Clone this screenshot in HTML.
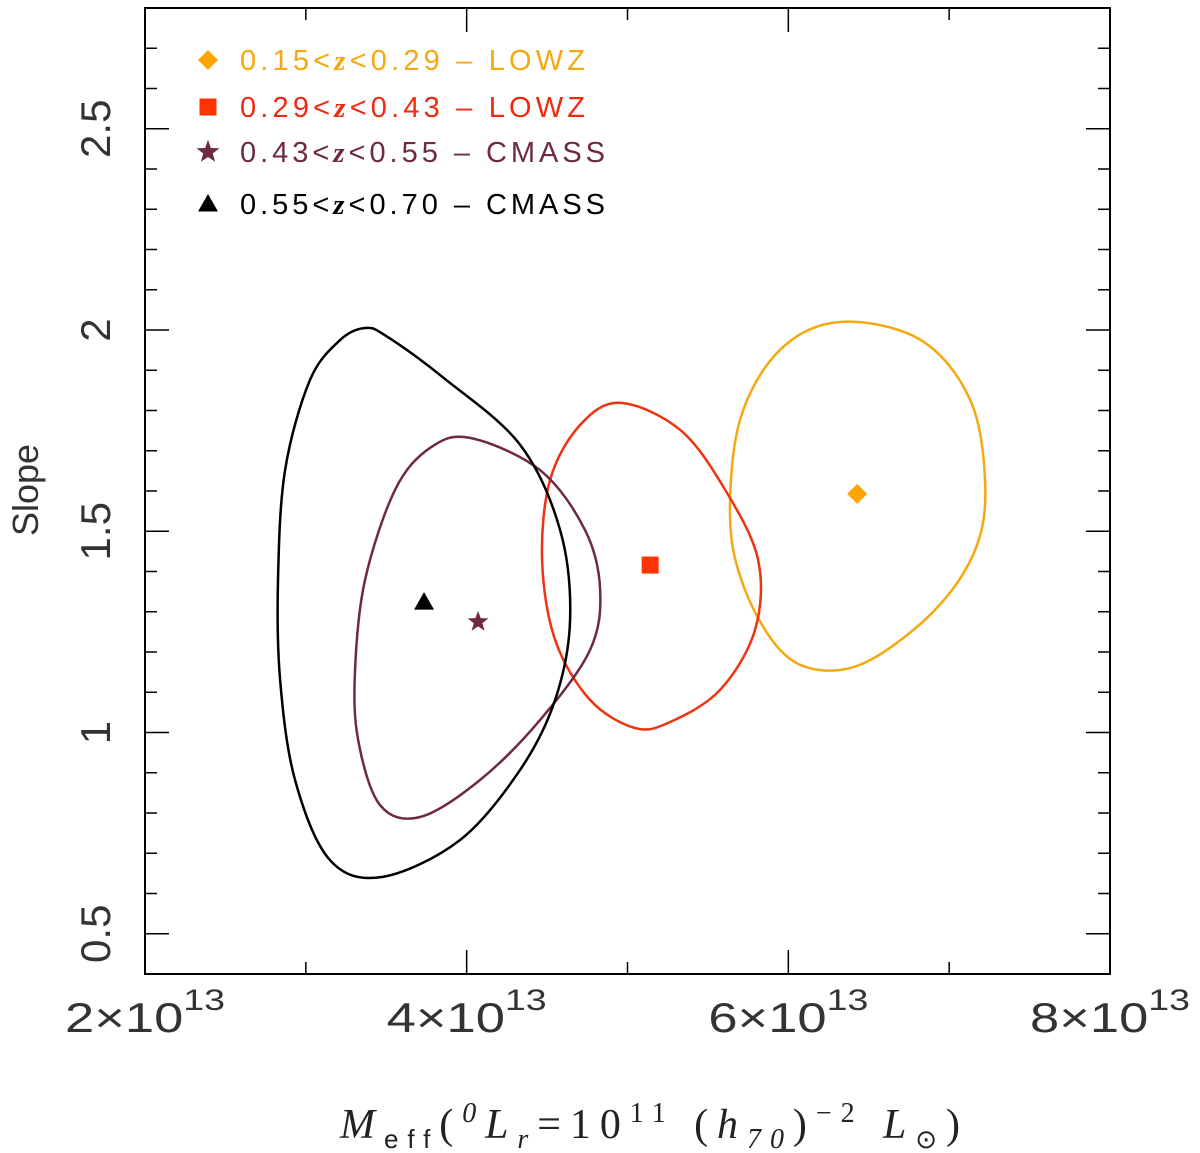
<!DOCTYPE html>
<html><head><meta charset="utf-8"><style>
body{margin:0;background:#fff}
svg{display:block;font-family:"Liberation Sans",sans-serif}
</style></head><body>
<svg id="chart" width="1200" height="1153" viewBox="0 0 1200 1153">
<g id="contours"></g>
<g id="markers"></g>
<g id="axes"></g>
<g id="legend"></g>
<text x="38" y="490" font-size="36" fill="#333" text-anchor="middle" transform="rotate(-90 38 490)">Slope</text>
<text x="650" y="1138" font-size="42" fill="#222" text-anchor="middle" font-family="Liberation Serif,serif" textLength="620"><tspan font-style="italic">M</tspan><tspan font-size="26" dy="10" font-family="Liberation Sans">eff</tspan><tspan dy="-10">(</tspan><tspan font-style="italic" font-size="28" dy="-16">0</tspan><tspan font-style="italic" dy="16">L</tspan><tspan font-style="italic" font-size="28" dy="10">r</tspan><tspan dy="-10">=10</tspan><tspan font-size="28" dy="-16">11</tspan><tspan dy="16">  (</tspan><tspan font-style="italic">h</tspan><tspan font-style="italic" font-size="28" dy="10">70</tspan><tspan dy="-10">)</tspan><tspan font-size="28" dy="-16">−2</tspan><tspan font-style="italic" dy="16">  L</tspan><tspan font-size="26" dy="10">⊙</tspan><tspan dy="-10">)</tspan></text>
</svg>
<script>
const xTicksMajor=[2,4,6,8];
const xTicksMinor=[3,5,7];
const yTicksMajor=[0.5,1,1.5,2,2.5];
const yTickLabels=["0.5","1","1.5","2","2.5"];
const yTicksMinor=[0.4,0.6,0.7,0.8,0.9,1.1,1.2,1.3,1.4,1.6,1.7,1.8,1.9,2.1,2.2,2.3,2.4,2.6,2.7];
const seriesNames=["0.15<z<0.29 — LOWZ","0.29<z<0.43 — LOWZ","0.43<z<0.55 — CMASS","0.55<z<0.70 — CMASS"];
const lowz1X=[6.322,6.820,7.131,7.224,7.162,6.913,6.509,6.198,5.949,5.731,5.638,5.700,5.949];
const lowz1Y=[2.020,1.976,1.826,1.615,1.454,1.305,1.180,1.155,1.205,1.354,1.528,1.777,1.951];
const lowz2X=[4.954,5.327,5.607,5.812,5.793,5.576,5.265,5.047,4.767,4.550,4.469,4.519,4.705];
const lowz2Y=[1.819,1.752,1.603,1.429,1.255,1.106,1.026,1.011,1.081,1.230,1.429,1.628,1.764];
const cmass1X=[4.021,4.456,4.736,4.830,4.767,4.456,4.083,3.710,3.461,3.325,3.306,3.368,3.555,3.772];
const cmass1Y=[1.732,1.652,1.503,1.354,1.205,1.031,0.882,0.790,0.820,0.982,1.155,1.379,1.603,1.707];
const cmass2X=[3.368,3.500,3.860,4.332,4.581,4.643,4.550,4.332,3.959,3.474,3.150,2.933,2.840,2.827,2.871,3.026,3.213];
const cmass2Y=[2.005,1.985,1.880,1.715,1.503,1.280,1.081,0.907,0.733,0.641,0.683,0.882,1.131,1.379,1.652,1.876,1.975];
const bestX=[6.428,5.141,4.071,3.735];
const bestY=[1.593,1.416,1.275,1.324];

const L=145,R=1110,T=8,B=974,X0=2,X1=8,Y0=0.4,Y1=2.8;
const sx=v=>L+(v-X0)/(X1-X0)*(R-L);
const sy=v=>B-(v-Y0)/(Y1-Y0)*(B-T);
const NS='http://www.w3.org/2000/svg';
function mk(tag,attrs,parent){const e=document.createElementNS(NS,tag);for(const k in attrs)e.setAttribute(k,attrs[k]);parent.appendChild(e);return e;}
const colors=['#f5a810','#ee3311','#6e2a42','#000'];
const mcolors=['#ffa500','#ff3300','#6e2a42','#000'];
const cx=[lowz1X,lowz2X,cmass1X,cmass2X],cy=[lowz1Y,lowz2Y,cmass1Y,cmass2Y];
const cg=document.getElementById('contours');
function smooth(px,py){const n=px.length;let d=`M${px[0]},${py[0]}`;for(let i=0;i<n;i++){const p0=(i-1+n)%n,p1=i,p2=(i+1)%n,p3=(i+2)%n;
const c1x=px[p1]+(px[p2]-px[p0])/6,c1y=py[p1]+(py[p2]-py[p0])/6,c2x=px[p2]-(px[p3]-px[p1])/6,c2y=py[p2]-(py[p3]-py[p1])/6;
d+=`C${c1x},${c1y} ${c2x},${c2y} ${px[p2]},${py[p2]}`;}return d+'Z';}
const cnames=['contour-lowz-low','contour-lowz-high','contour-cmass-low','contour-cmass-high'];
for(let s=0;s<4;s++){const p=mk('path',{d:smooth(cx[s].map(sx),cy[s].map(sy)),fill:'none',stroke:colors[s],'stroke-width':2.5},cg);

}
function marker(s,x,y,r,parent){let e;
if(s==0)e=mk('polygon',{points:`${x},${y-r} ${x+r},${y} ${x},${y+r} ${x-r},${y}`,fill:mcolors[0]},parent);
else if(s==1)e=mk('rect',{x:x-r*0.85,y:y-r*0.85,width:r*1.7,height:r*1.7,fill:mcolors[1]},parent);
else if(s==2){let pts=[];for(let i=0;i<10;i++){const a=-Math.PI/2+i*Math.PI/5,rr=i%2?r*0.45:r*1.1;pts.push((x+rr*Math.cos(a))+','+(y+rr*Math.sin(a)));}e=mk('polygon',{points:pts.join(' '),fill:mcolors[2]},parent);}
else e=mk('polygon',{points:`${x},${y-r} ${x+r},${y+r*0.75} ${x-r},${y+r*0.75}`,fill:mcolors[3]},parent);
return e;}
const mg=document.getElementById('markers');
const mnames=['marker-lowz-low','marker-lowz-high','marker-cmass-low','marker-cmass-high'];
for(let s=0;s<4;s++){const e=marker(s,sx(bestX[s]),sy(bestY[s]),10,mg);

}
const ag=document.getElementById('axes');
const fr=mk('rect',{x:L,y:T,width:R-L,height:B-T,fill:'none',stroke:'#000','stroke-width':2},ag);


xTicksMajor.forEach(v=>{const x=sx(v);mk('line',{x1:x,x2:x,y1:B,y2:B-24,stroke:'#000','stroke-width':1.5},ag);mk('line',{x1:x,x2:x,y1:T,y2:T+24,stroke:'#000','stroke-width':1.5},ag);
const t=mk('text',{x:x,y:1032,'font-size':42,fill:'#333','text-anchor':'middle',textLength:160,lengthAdjust:'spacingAndGlyphs'},ag);


t.innerHTML=`${v}×10<tspan font-size="30" dy="-22">13</tspan>`;});
xTicksMinor.forEach(v=>{const x=sx(v);mk('line',{x1:x,x2:x,y1:B,y2:B-12,stroke:'#000','stroke-width':1.5},ag);mk('line',{x1:x,x2:x,y1:T,y2:T+12,stroke:'#000','stroke-width':1.5},ag);});
yTicksMajor.forEach((v,i)=>{const y=sy(v);mk('line',{x1:L,x2:L+24,y1:y,y2:y,stroke:'#000','stroke-width':1.5},ag);mk('line',{x1:R,x2:R-24,y1:y,y2:y,stroke:'#000','stroke-width':1.5},ag);
const t=mk('text',{x:110,y:y,'font-size':42,fill:'#333','text-anchor':'middle',transform:`rotate(-90 110 ${y})`},ag);


t.textContent=yTickLabels[i];});
yTicksMinor.forEach(v=>{const y=sy(v);mk('line',{x1:L,x2:L+12,y1:y,y2:y,stroke:'#000','stroke-width':1.5},ag);mk('line',{x1:R,x2:R-12,y1:y,y2:y,stroke:'#000','stroke-width':1.5},ag);});
const lg=document.getElementById('legend');
const lys=[60,107,152,204];
const lwidths=[345,345,365,365];
const tcolors=['#f5a810','#ee2a10','#6e2a42','#000'];
for(let s=0;s<4;s++){const g=mk('g',{},lg);


marker(s,208,lys[s],s==2?11:10,g);
const parts=seriesNames[s].split('z');
const t=mk('text',{x:240,y:lys[s]+10,'font-size':29,fill:tcolors[s],textLength:lwidths[s]},g);
t.innerHTML=`${parts[0]}<tspan font-family="Liberation Serif,serif" font-style="italic" font-weight="bold">z</tspan>${parts[1].replace('<','&lt;').replace(' — ','  –  ')}`;}
</script>
</body></html>
